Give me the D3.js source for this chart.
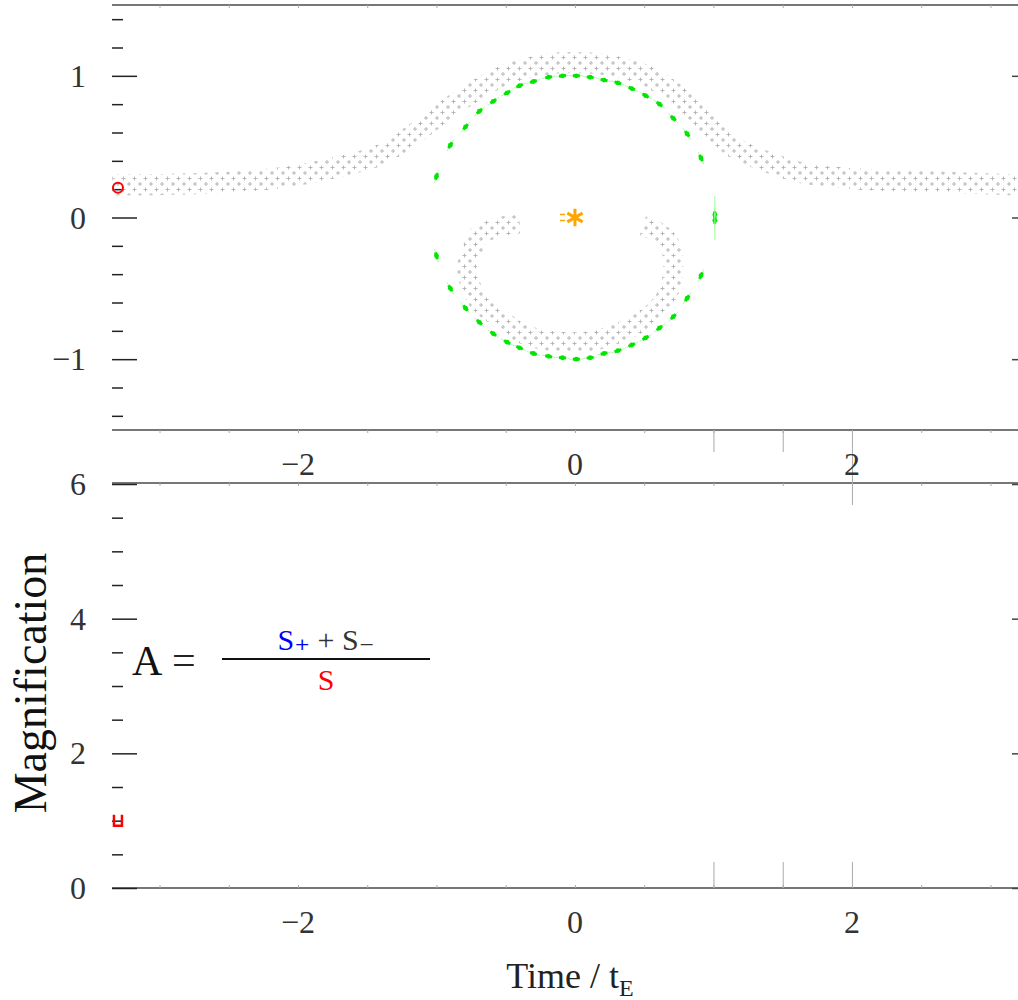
<!DOCTYPE html>
<html lang="en">
<head>
<meta charset="utf-8">
<title>Magnification</title>
<script src="https://d3js.org/d3.v7.min.js"></script>
<style>
body { margin: 0; background: #fff; }
text { font-family: "Liberation Serif", "DejaVu Serif", serif; }
</style>
</head>
<body>
<div id="container"></div>
<script>
var w = 1018, h = 1000;

// tick values / labels
var xLabelTicks = [-2, 0, 2];
var xMinorTicks = [-3, -2.5, -2, -1.5, -1, -0.5, 0, 0.5, 1, 1.5, 2, 2.5, 3];
var thetaMajor = [-1, 0, 1];
var thetaMinor = [-1.4, -1.2, -1, -0.8, -0.6, -0.4, -0.2, 0, 0.2, 0.4, 0.6, 0.8, 1, 1.2, 1.4];
var magMajor = [0, 2, 4, 6];
var magMinor = [0, 0.5, 1, 1.5, 2, 2.5, 3, 3.5, 4, 4.5, 5, 5.5, 6];

// outer image track (centre of band)
var outerX = [-3.34, -2.71, -2.13, -1.70, -1.41, -1.19, -0.97, -0.76, -0.54, -0.32, -0.13, 0.11, 0.32, 0.54, 0.78, 0.97, 1.14, 1.34, 1.62, 2.06, 2.64, 3.20];
var outerY = [0.23, 0.24, 0.28, 0.36, 0.44, 0.57, 0.73, 0.87, 0.99, 1.06, 1.09, 1.09, 1.06, 0.99, 0.83, 0.65, 0.50, 0.41, 0.32, 0.27, 0.25, 0.23];

// inner image track
var innerX = [-0.40, -0.59, -0.70, -0.74, -0.78, -0.76, -0.69, -0.56, -0.42, -0.25, -0.06, 0.13, 0.30, 0.47, 0.61, 0.69, 0.71, 0.69, 0.61, 0.49];
var innerY = [-0.04, -0.08, -0.13, -0.23, -0.35, -0.46, -0.60, -0.70, -0.80, -0.86, -0.88, -0.87, -0.82, -0.74, -0.63, -0.49, -0.35, -0.20, -0.11, -0.06];

// Einstein ring points (green)
var ringX = [-1.00, -0.90, -0.79, -0.69, -0.59, -0.49, -0.40, -0.30, -0.19, -0.09, 0.01, 0.11, 0.21, 0.31, 0.41, 0.51, 0.61, 0.71, 0.81, 0.91, 1.01];
var ringUpper = [0.29, 0.51, 0.64, 0.75, 0.82, 0.88, 0.93, 0.96, 0.99, 1.00, 1.00, 0.99, 0.97, 0.95, 0.91, 0.86, 0.80, 0.70, 0.59, 0.42, 0.02];
var ringLower = [-0.27, -0.50, -0.64, -0.74, -0.82, -0.88, -0.92, -0.96, -0.98, -0.99, -1.00, -0.99, -0.96, -0.94, -0.90, -0.85, -0.78, -0.70, -0.57, -0.41, -0.02];

// lens and source
var lensX = [0], lensY = [0];
var sourceX = [-3.30], sourceY = [0.21];
var timeNow = [-3.30], magNow = [1.0];

var svg = d3.select("#container").append("svg")
    .attr("width", w).attr("height", h)
    .style("background", "#fff");

var x = d3.scaleLinear().domain([-3.343, 3.199]).range([112, 1018]);
var yTop = d3.scaleLinear().domain([-1.5, 1.5]).range([430, 5]);
var yBot = d3.scaleLinear().domain([0, 6.015]).range([888, 483]);

// plus pattern for image bands
var defs = svg.append("defs");
var pat = defs.append("pattern").attr("id", "plus")
    .attr("patternUnits", "userSpaceOnUse").attr("width", 11).attr("height", 11);
[[2.5, 2.5], [8, 8]].forEach(function(p) {
  pat.append("path")
    .attr("d", "M" + (p[0] - 2) + "," + p[1] + "h4M" + p[0] + "," + (p[1] - 2) + "v4")
    .attr("stroke", "#b0b0b0").attr("stroke-width", 0.9).attr("fill", "none");
});

// ---- panels frame
function frame(y0, y1) {
  [y0, y1].forEach(function(yy) {
    svg.append("line").attr("x1", 112).attr("x2", w).attr("y1", yy).attr("y2", yy)
      .attr("stroke", "#777").attr("stroke-width", 2);
  });
}
frame(yTop(1.5), yTop(-1.5));
frame(yBot(6.015), yBot(0));

// small x ticks on the horizontal lines
function xTicks(yy, dir, size) {
  svg.append("g").attr("transform", "translate(0," + yy + ")")
    .call((dir > 0 ? d3.axisBottom(x) : d3.axisTop(x)).tickValues(xMinorTicks).tickSize(size).tickFormat(""))
    .call(function(g) { g.select(".domain").remove(); g.selectAll("line").attr("stroke", "#aaa"); });
}
xTicks(yTop(1.5), 1, 3);
xTicks(yTop(-1.5), 1, 3);
xTicks(yBot(6.015), 1, 3);
xTicks(yBot(0), -1, 3);

// longer ticks near the right
svg.append("g").attr("transform", "translate(0," + yTop(-1.5) + ")")
  .call(d3.axisBottom(x).tickValues([1, 1.5]).tickSize(22).tickFormat(""))
  .call(function(g) { g.select(".domain").remove(); g.selectAll("line").attr("stroke", "#aaa"); });
svg.append("g").attr("transform", "translate(0," + yTop(-1.5) + ")")
  .call(d3.axisBottom(x).tickValues([2]).tickSize(75).tickFormat(""))
  .call(function(g) { g.select(".domain").remove(); g.selectAll("line").attr("stroke", "#aaa"); });
svg.append("g").attr("transform", "translate(0," + yBot(0) + ")")
  .call(d3.axisTop(x).tickValues([1, 1.5, 2]).tickSize(26).tickFormat(""))
  .call(function(g) { g.select(".domain").remove(); g.selectAll("line").attr("stroke", "#aaa"); });

// ---- y axes
function yAxis(scale, minor, major, labels) {
  svg.append("g").attr("transform", "translate(123,0)")
    .call(d3.axisLeft(scale).tickValues(minor).tickSize(11).tickFormat(""))
    .call(function(g) { g.select(".domain").remove(); g.selectAll("line").attr("stroke", "#222").attr("stroke-width", 1.5); });
  svg.append("g").attr("transform", "translate(123,0)")
    .call(d3.axisRight(scale).tickValues(major).tickSize(14).tickFormat(""))
    .call(function(g) { g.select(".domain").remove(); g.selectAll("line").attr("stroke", "#222").attr("stroke-width", 1.5); });
  svg.append("g").attr("transform", "translate(" + w + ",0)")
    .call(d3.axisLeft(scale).tickValues(major).tickSize(6).tickFormat(""))
    .call(function(g) { g.select(".domain").remove(); g.selectAll("line").attr("stroke", "#444").attr("stroke-width", 1.5); });
  svg.append("g").selectAll("text").data(major).enter().append("text")
    .attr("x", 86).attr("y", function(d) { return scale(d) + 11; })
    .attr("text-anchor", "end").attr("font-size", 32).attr("fill", "#333")
    .text(function(d, i) { return labels[i]; });
}
yAxis(yTop, thetaMinor, thetaMajor, ["\u22121", "0", "1"]);
yAxis(yBot, magMinor, magMajor, ["0", "2", "4", "6"]);

// x tick labels
[yTop(-1.5) + 45, yBot(0) + 45].forEach(function(by) {
  svg.append("g").selectAll("text").data(xLabelTicks).enter().append("text")
    .attr("x", function(d) { return x(d); }).attr("y", by)
    .attr("text-anchor", "middle").attr("font-size", 32).attr("fill", "#333")
    .text(function(d) { return d < 0 ? "\u2212" + Math.abs(d) : d; });
});

// axis titles
svg.append("text").attr("transform", "translate(46,683) rotate(-90)")
  .attr("text-anchor", "middle").attr("font-size", 46).attr("fill", "#111")
  .text("Magnification");
var xt = svg.append("text").attr("x", 570).attr("y", 988)
  .attr("text-anchor", "middle").attr("font-size", 36).attr("fill", "#222");
xt.append("tspan").text("Time / t");
xt.append("tspan").attr("font-size", 24).attr("dy", 8).text("E");

// ---- top panel: image bands
var line = d3.line().curve(d3.curveCatmullRom)
  .x(function(d) { return x(d[0]); }).y(function(d) { return yTop(d[1]); });
svg.append("path").datum(d3.zip(outerX, outerY)).attr("d", line)
  .attr("fill", "none").attr("stroke", "url(#plus)").attr("stroke-width", 21);
svg.append("path").datum(d3.zip(innerX, innerY)).attr("d", line)
  .attr("fill", "none").attr("stroke", "url(#plus)").attr("stroke-width", 20);

// Einstein ring points
var ring = d3.zip(ringX, ringUpper).concat(d3.zip(ringX, ringLower));
var cx = x(0), cy = yTop(0);
var rg = svg.append("g");
ring.forEach(function(d) {
  var px = x(d[0]), py = yTop(d[1]);
  var ang = Math.atan2(py - cy, px - cx);
  var tx = -Math.sin(ang), ty = Math.cos(ang);
  rg.append("line")
    .attr("x1", px - tx * 7).attr("y1", py - ty * 7).attr("x2", px + tx * 7).attr("y2", py + ty * 7)
    .attr("stroke", "#b8f5b8").attr("stroke-width", 1);
  rg.append("line")
    .attr("x1", px - tx * 3.5).attr("y1", py - ty * 3.5).attr("x2", px + tx * 3.5).attr("y2", py + ty * 3.5)
    .attr("stroke", "#00e600").attr("stroke-width", 3);
  rg.append("circle").attr("cx", px).attr("cy", py).attr("r", 2.4).attr("fill", "#00e600");
});
rg.append("line").attr("x1", x(1.01)).attr("x2", x(1.01))
  .attr("y1", yTop(0.15)).attr("y2", yTop(-0.16)).attr("stroke", "#9f9").attr("stroke-width", 1);

// lens
svg.selectAll(".lens").data(d3.zip(lensX, lensY)).enter().append("path")
  .attr("class", "lens")
  .attr("transform", function(d) { return "translate(" + x(d[0]) + "," + yTop(d[1]) + ")"; })
  .attr("d", d3.symbol(d3.symbolAsterisk, 220)())
  .attr("stroke", "orange").attr("stroke-width", 3).attr("fill", "none");
svg.append("path").attr("d", "M" + (x(0) - 15) + "," + (yTop(0) - 3) + "h5M" + (x(0) - 15) + "," + (yTop(0) + 3) + "h5")
  .attr("stroke", "orange").attr("stroke-width", 1.5);

// source
svg.selectAll(".src").data(d3.zip(sourceX, sourceY)).enter().append("circle")
  .attr("class", "src")
  .attr("cx", function(d) { return x(d[0]); }).attr("cy", function(d) { return yTop(d[1]); })
  .attr("r", 5).attr("fill", "none").attr("stroke", "red").attr("stroke-width", 2);

// ---- bottom panel: current magnification
svg.selectAll(".now").data(d3.zip(timeNow, magNow)).enter().append("path")
  .attr("class", "now")
  .attr("transform", function(d) { return "translate(" + x(d[0]) + "," + yBot(d[1]) + ")"; })
  .attr("d", "M-4,-6V5H4V-6")
  .attr("stroke", "red").attr("stroke-width", 2.5).attr("fill", "none");

// formula
svg.append("text").attr("x", 132).attr("y", 675).attr("font-size", 42).attr("fill", "#111").text("A");
svg.append("text").attr("x", 172).attr("y", 674).attr("font-size", 42).attr("fill", "#222").text("=");
svg.append("line").attr("x1", 222).attr("x2", 430).attr("y1", 659).attr("y2", 659)
  .attr("stroke", "#111").attr("stroke-width", 2);
var num = svg.append("text").attr("x", 326).attr("y", 650).attr("text-anchor", "middle")
  .attr("font-size", 30);
num.append("tspan").attr("fill", "blue").text("S\u208a");
num.append("tspan").attr("fill", "#333").text("  +  ");
num.append("tspan").attr("fill", "#333").text("S\u208b");
svg.append("text").attr("x", 326).attr("y", 690).attr("text-anchor", "middle")
  .attr("font-size", 30).attr("fill", "red").text("S");
</script>
</body>
</html>
